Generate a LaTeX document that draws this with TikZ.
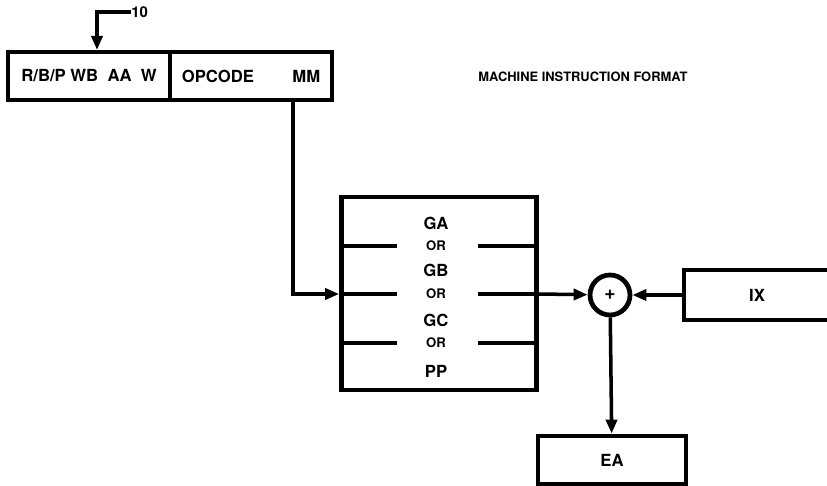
\documentclass[tikz,border=0pt]{standalone}
\usepackage{fontspec}
\setmainfont{TeX Gyre Heros}
\usetikzlibrary{arrows.meta,positioning}

\begin{document}
\begin{tikzpicture}[
    x=0.02cm, y=-0.02cm,
    box/.style={draw, line width=2.7pt, inner sep=0pt, font=\fontsize{9.5}{11}\selectfont\bfseries},
    lbl/.style={inner sep=0pt, font=\fontsize{9.5}{11}\selectfont\bfseries},
    small/.style={inner sep=0pt, font=\fontsize{7.5}{9}\selectfont\bfseries},
    link/.style={-{Triangle[length=2.8mm, width=2.2mm]}, line width=2pt},
    sep/.style={line width=2pt}
]
\clip (0,0) rectangle (827,486);
\useasboundingbox (0,0) rectangle (827,486);
% instruction format
\node[box, minimum width=3.24cm, minimum height=0.96cm] (ctl) at (89,76) {R/B/P WB\ \ AA\ \ W};
\node[box, minimum width=3.24cm, minimum height=0.96cm] (opc) at (251,76) {OPCODE\hspace{2.3em}MM};
\node[lbl, anchor=west, font=\fontsize{7.35}{9}\selectfont\bfseries] (fmt) at (478,77) {MACHINE INSTRUCTION FORMAT};
\node[lbl, anchor=west, font=\fontsize{8.5}{10}\selectfont\bfseries] (ten) at (131,12) {10};
\coordinate (tip) at (97,50);
\coordinate (drop) at (293,100);
\draw[link] (ten.west) -| (tip);

% register select
\node[box, minimum width=3.9cm, minimum height=3.86cm] (gsel) at (439,293.5) {};
\node[lbl] (ga) at (436,223) {GA};
\node[small] (or1) at (436,246) {OR};
\node[lbl] (gb) at (436,270) {GB};
\node[small] (or2) at (436,294) {OR};
\node[lbl] (gc) at (436,320) {GC};
\node[small] (or3) at (436,343) {OR};
\node[lbl] (pp) at (436,371) {PP};
\foreach \y in {246,294,343} {
    \draw[sep] (gsel.west |- 0,\y) -- (397,\y);
    \draw[sep] (478,\y) -- (gsel.east |- 0,\y);
}
\draw[link] (drop) |- (gsel.west |- 0,294);

% adder
\node[draw, circle, line width=2.7pt, minimum size=0.8cm, inner sep=0pt, font=\fontsize{11}{12}\selectfont\bfseries] (sum) at (610,295) {+};
\node[box, minimum width=2.92cm, minimum height=1cm] (ix) at (757,295) {IX};
\node[box, minimum width=2.96cm, minimum height=0.96cm] (ea) at (612,460) {EA};
\draw[link] (gsel.east |- 0,294) -- (sum);
\draw[link] (ix) -- (sum);
\draw[link] (sum) -- (ea);
\end{tikzpicture}
\end{document}
